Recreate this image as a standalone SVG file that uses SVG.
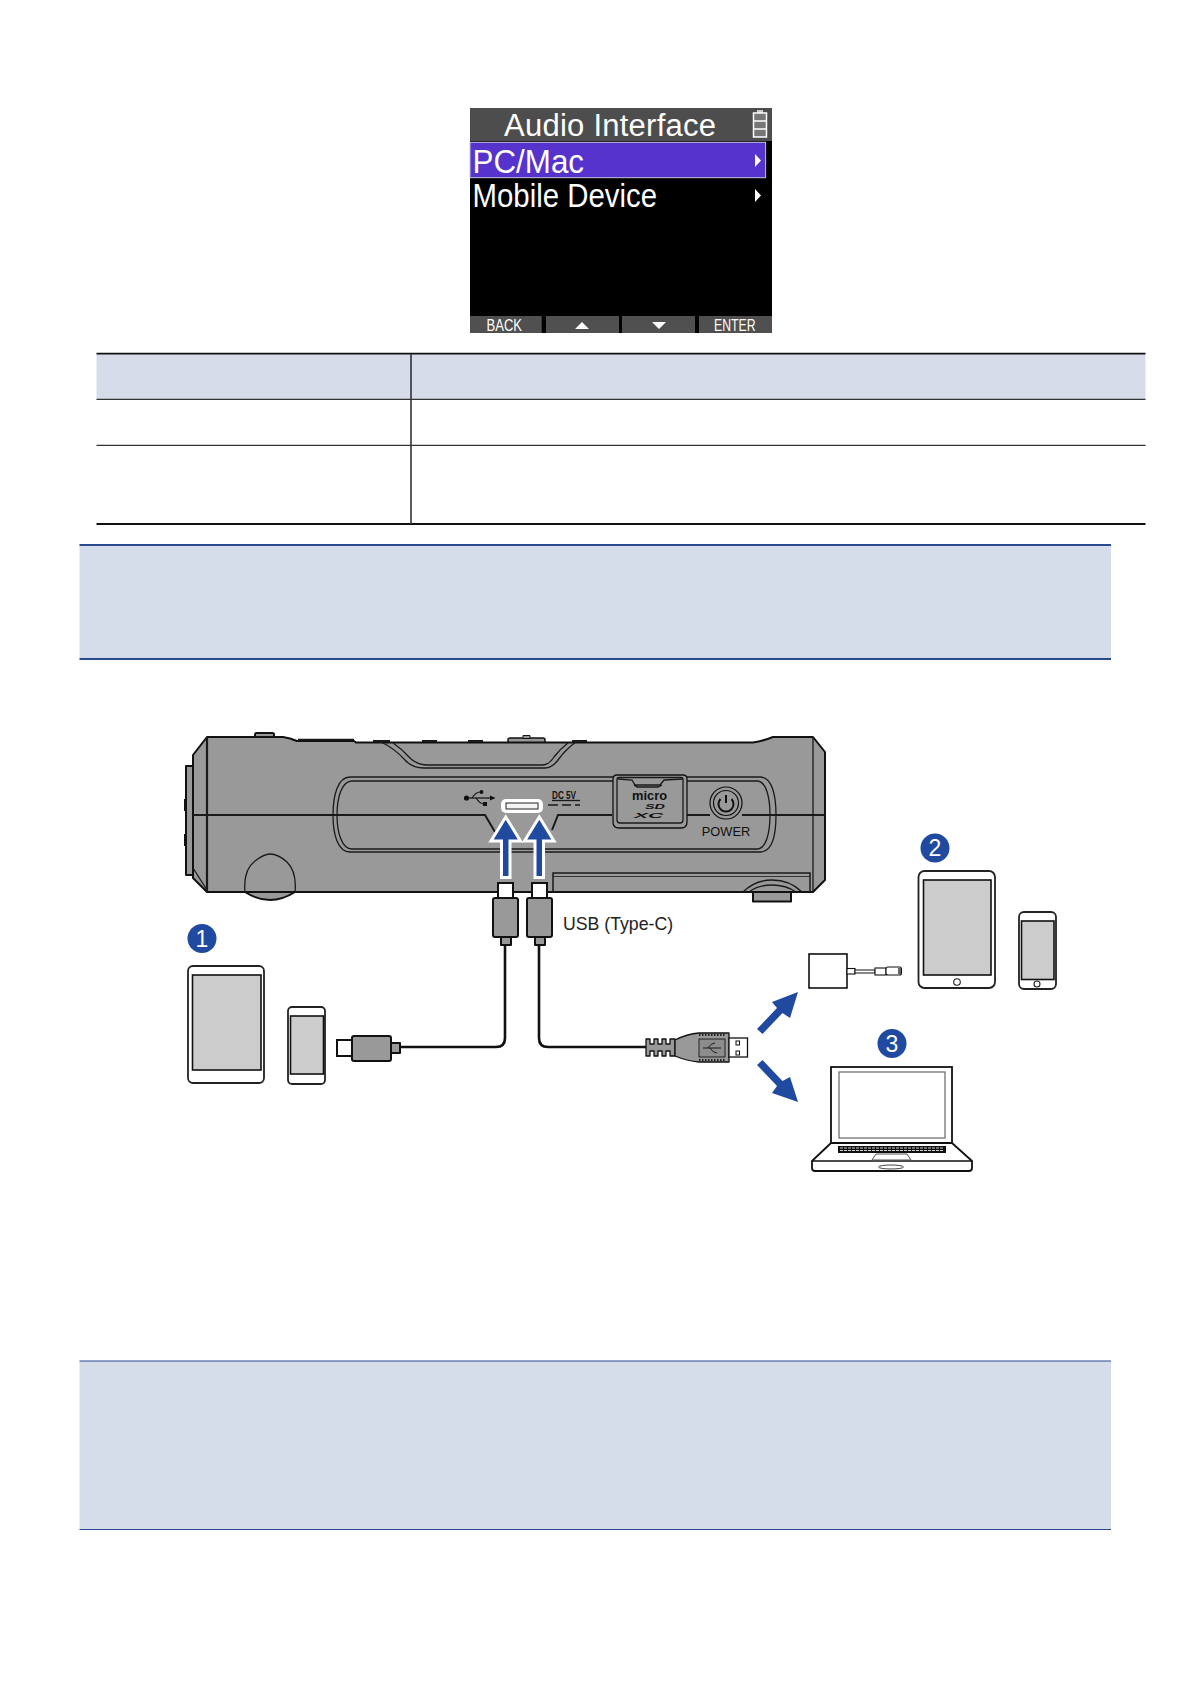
<svg xmlns="http://www.w3.org/2000/svg" width="1191" height="1684" viewBox="0 0 1191 1684">
<defs>
<style>
.sans{font-family:"Liberation Sans",Arial,sans-serif}
.lcd{font-family:"Liberation Sans",Arial,sans-serif;fill:#fff}
.ln{fill:none;stroke:#1a1a1a;stroke-width:1.3}
.ln2{fill:none;stroke:#1a1a1a;stroke-width:2}
.body{fill:#999;stroke:#111;stroke-width:2;stroke-linejoin:round}
.white{fill:#fff;stroke:#111;stroke-width:2}
.scr{fill:#ccc;stroke:#111;stroke-width:1.6}
.dev{fill:#fff;stroke:#222;stroke-width:1.8}
.blue{fill:#1f4a9f}
.cable{fill:none;stroke:#111;stroke-width:2.6}
.badge{fill:#1f4a9f}
.badgetxt{font-family:"Liberation Sans",Arial,sans-serif;font-size:23px;fill:#fff;text-anchor:middle}
.bar{fill:#505050}
.hr{stroke:#333;stroke-width:1.2}
.blueline{stroke:#2a4a90;stroke-width:1.8}
</style>
</defs>

<g id="screen">
<rect x="470" y="108" width="302" height="225" fill="#000"/>
<rect x="470" y="108" width="302" height="33" fill="#4d4d4d"/>
<rect x="470" y="142.300" width="295.600" height="35.400" fill="#5533cc" stroke="#c9c4e6" stroke-width="1"/>
<text class="lcd" x="504" y="136" font-size="31" textLength="212" lengthAdjust="spacing">Audio Interface</text>
<text class="lcd" x="472.500" y="173" font-size="33" textLength="111.500" lengthAdjust="spacingAndGlyphs">PC/Mac</text>
<text class="lcd" x="472.500" y="207" font-size="33" textLength="184.500" lengthAdjust="spacingAndGlyphs">Mobile Device</text>
<path d="M755 154 L761 160.500 L755 167Z M755 189 L761 195.500 L755 202Z" fill="#fff"/>
<g id="battery">
<rect x="757" y="110" width="6" height="3" fill="#ccc"/>
<rect x="753.500" y="113" width="13" height="24" fill="#777" stroke="#fff" stroke-width="1.500"/>
<path d="M754 121 H766 M754 129 H766" stroke="#fff" stroke-width="1.300" fill="none"/>
</g>
<rect class="bar" x="470" y="316" width="71.700" height="17"/>
<rect class="bar" x="546" y="316" width="73" height="17"/>
<rect class="bar" x="622" y="316" width="73" height="17"/>
<rect class="bar" x="699" y="316" width="73" height="17"/>
<text class="lcd" x="486.500" y="331" font-size="16" textLength="35.500" lengthAdjust="spacingAndGlyphs">BACK</text>
<text class="lcd" x="714" y="331" font-size="16" textLength="41.500" lengthAdjust="spacingAndGlyphs">ENTER</text>
<path d="M582 322 L589 329 L575 329Z M652 322 L666 322 L659 329Z" fill="#fff"/>
</g>

<g id="table">
<rect x="96.500" y="354" width="1049" height="45.500" fill="#d6dcea"/>
<line class="hr" x1="96.500" y1="353.700" x2="1145.500" y2="353.700" style="stroke:#111;stroke-width:1.700"/>
<line class="hr" x1="96.500" y1="399.400" x2="1145.500" y2="399.400"/>
<line class="hr" x1="96.500" y1="445.400" x2="1145.500" y2="445.400"/>
<line class="hr" x1="96.500" y1="524" x2="1145.500" y2="524" style="stroke:#111;stroke-width:1.800"/>
<line class="hr" x1="411" y1="354" x2="411" y2="524" style="stroke-width:1.600"/>
</g>

<g id="note-top">
<rect x="79.500" y="545" width="1031.500" height="114" fill="#d5dcea"/>
<line class="blueline" x1="79.500" y1="545" x2="1111" y2="545"/>
<line class="blueline" x1="79.500" y1="659" x2="1111" y2="659"/>
</g>

<g id="note-bottom">
<rect x="79.500" y="1361" width="1031.500" height="168.500" fill="#d5dcea"/>
<line class="blueline" x1="79.500" y1="1361" x2="1111" y2="1361" style="stroke-width:1.200"/>
<line class="blueline" x1="79.500" y1="1529.500" x2="1111" y2="1529.500" style="stroke-width:1.200"/>
</g>

<g id="recorder">
<rect class="body" x="186" y="766" width="8" height="109"/>
<rect x="184" y="799" width="2.500" height="12" fill="#111"/>
<rect x="184" y="834" width="2.500" height="12" fill="#111"/>
<rect class="body" x="255" y="733" width="19" height="6" rx="1.500"/>
<rect class="body" x="508" y="738" width="37" height="6" rx="2" style="stroke-width:1.500"/>
<rect class="body" x="523" y="735.500" width="7" height="3" style="stroke-width:1"/>
<path class="body" d="M245 892 Q270 908 295 892Z"/>
<path class="body" d="M753 892 L753 901.500 L791 901.500 L791 892Z"/>
<path class="body" d="M193 755 L207 737 L283 737 Q290 738 297 741 L354 741 L356 742.500 L753 742.500 Q763 741 773 737 L813 737 L825 752 L825 880 L813 892 L207 892 L193 878Z"/>
<path class="ln2" d="M207 737 L207 892" style="stroke-width:2.200"/>
<path class="ln" d="M813 737 L813 892"/>
<path class="ln" d="M193 868 L207 890"/>
<path class="ln" d="M298 739.500 L354 739.500"/>
<path class="ln" d="M373 741 L390 741 M422 741 L437 741 M468 741 L483 741 M572 741 L587 741" style="stroke-width:2.200"/>
<path class="ln" d="M381 742 Q394 748 405 760 Q412 768 424 768 L545 768 Q552 768 558 760 Q566 749 576 742"/>
<path class="ln" d="M393 743 Q402 749 409 757 Q416 765 428 765 L542 765 Q549 765 554 757 Q560 749 568 743"/>
<path class="ln" d="M613 777 L350 777 C338 777 333 795 333 815 C333 835 338 852 350 852 L760 852 C772 852 776 835 776 815 C776 795 772 777 760 777 L687 777"/>
<path class="ln" d="M613 781 L352 781 C342 781 337 797 337 815 C337 833 342 849 352 849 L757 849 C766 849 770 833 770 815 C770 797 766 781 757 781 L687 781"/>
<path class="ln2" d="M193 815 L485 815 L495 832"/>
<path class="ln2" d="M552 830 L558 815 L612 815"/>
<path class="ln2" d="M687 815 L710 815 M742 815 L825 815"/>
<path class="body" d="M613 779 Q613 775 617 775 L683 775 Q687 775 687 779 L687 822 Q687 828 681 828 L619 828 Q613 828 613 822Z" style="stroke-width:1.300"/>
<path class="ln" d="M617 779 Q617 777.500 619 777.500 L681 777.500 Q683 777.500 683 779 L683 820 Q683 823 680 823 L620 823 Q617 823 617 820Z"/>
<path class="ln" d="M618 779 L632 780 L635 785 L660 785 L664 780 L683 779 M634 785 L637 787 L658 787 L662 785"/>
<text class="sans" x="632" y="800" font-size="12.500" font-weight="700" textLength="35" lengthAdjust="spacingAndGlyphs" fill="#111">micro</text>
<text class="sans" x="645" y="809" font-size="7.500" font-weight="700" font-style="italic" textLength="20" lengthAdjust="spacingAndGlyphs" fill="#111">SD</text>
<text class="sans" x="634" y="818" font-size="8" font-weight="700" font-style="italic" textLength="29" lengthAdjust="spacingAndGlyphs" fill="#111">XC</text>
<circle cx="726" cy="803" r="16" class="body" style="stroke-width:1.200"/>
<circle cx="726" cy="803" r="12.500" fill="none" stroke="#111" stroke-width="1.200"/>
<path d="M720.500 799 A7.500 7.500 0 1 0 731.500 799 M726 795 L726 803" fill="none" stroke="#111" stroke-width="2"/>
<text class="sans" x="726" y="836" font-size="12.800" text-anchor="middle" fill="#111">POWER</text>
<g id="usb-logo" fill="#111">
<circle cx="466.500" cy="798" r="2.600"/>
<path d="M466 798 L494 798" stroke="#111" stroke-width="1.200" fill="none"/>
<path d="M495.500 798 L490 795.500 L490 800.500Z"/>
<path d="M472 798 Q476 792 480 792 M476 798 Q480 804 484 804" stroke="#111" stroke-width="1.100" fill="none"/>
<circle cx="481.500" cy="792" r="1.900"/>
<rect x="483" y="802" width="4" height="4"/>
</g>
<text class="sans" x="552" y="799" font-size="10" font-weight="700" textLength="24" lengthAdjust="spacingAndGlyphs" fill="#111">DC 5V</text>
<path class="ln" d="M552 800.500 L580 800.500"/>
<path class="ln" d="M548 805 L558 805 M562 805 L571 805 M575 805 L580 805"/>
<rect x="501" y="799" width="42" height="14" rx="5" fill="#fff"/>
<rect x="506" y="803" width="32" height="6" fill="#f4f4f4" stroke="#222" stroke-width="1"/>
<path class="ln" d="M553 892 L553 873 L810 873 L810 892" style="stroke-width:1.500"/>
<path class="ln" d="M553 876.500 L810 876.500" style="stroke-width:.8"/>
<path class="ln" d="M245 892 Q243 870 255 861 Q264 854 270 854 Q278 854 287 862 Q297 872 295 892"/>
<path class="ln" d="M743 892 Q755 880 772 880 Q790 880 802 892"/>
<path class="ln" d="M749 892 Q758 885 772 885 Q786 885 796 892"/>
</g>

<g id="arrows">
<path class="blue" stroke="#fff" stroke-width="3" stroke-linejoin="miter" d="M505.700 817 L520.500 841 L510 841 L510 877.500 L501.500 877.500 L501.500 841 L491 841Z"/>
<path class="blue" stroke="#fff" stroke-width="3" stroke-linejoin="miter" d="M539.300 817 L554 841 L543.500 841 L543.500 877.500 L535 877.500 L535 841 L524.500 841Z"/>
<path class="blue" d="M798 992 L790 1018 L782.500 1013 L762.500 1034 L757 1029 L777 1008 L772 1002Z"/>
<path class="blue" d="M798 1102 L772 1093 L777 1086 L757 1065 L762.500 1060 L782.500 1081 L790 1077Z"/>
</g>

<g id="connectors">
<path class="cable" d="M505 945 L505 1038 Q505 1047 496 1047 L400 1047"/>
<path class="cable" d="M539 945 L539 1038 Q539 1047 548 1047 L646 1047"/>
</g>

<g id="usbc-plugs">
<rect class="white" x="498" y="883" width="15" height="15"/>
<rect class="white" x="532" y="883" width="15" height="15"/>
<rect class="body" x="493" y="898" width="25" height="39" rx="2"/>
<rect class="body" x="527" y="898" width="25" height="39" rx="2"/>
<rect class="body" x="501" y="937" width="10" height="8"/>
<rect class="body" x="535" y="937" width="10" height="8"/>
</g>

<g id="device-left-plug">
<rect class="white" x="337" y="1040" width="16" height="16"/>
<rect class="body" x="352" y="1036" width="39" height="25" rx="2"/>
<rect class="body" x="391" y="1043" width="9" height="10"/>
</g>

<g id="usb-a-plug">
<path class="body" d="M646 1039 L650 1039 L650 1044 L654 1044 L654 1039 L658 1039 L658 1044 L662 1044 L662 1039 L666 1039 L666 1044 L670 1044 L670 1039 L675 1039 L675 1056 L670 1056 L670 1051 L666 1051 L666 1056 L662 1056 L662 1051 L658 1051 L658 1056 L654 1056 L654 1051 L650 1051 L650 1056 L646 1056Z" style="stroke-width:1.300"/>
<path class="body" d="M675 1040 Q687 1034 699 1033 L729 1033 L729 1062 L699 1062 Q687 1061 675 1056Z" style="stroke-width:1.300"/>
<rect x="699" y="1039" width="26" height="18" fill="#8c8c8c" stroke="#222" stroke-width="1"/>
<path d="M699 1035 L725 1035 M699 1060 L725 1060" stroke="#222" stroke-width="2" stroke-dasharray="1.500 1.500" fill="none"/>
<path d="M703 1048 L721 1048 M708 1048 Q711 1043 715 1043 M710 1048 Q713 1053 717 1053" stroke="#111" stroke-width=".9" fill="none"/>
<rect class="white" x="729" y="1038" width="18.500" height="19" style="stroke-width:1.300"/>
<rect x="736" y="1041" width="3.500" height="4" fill="#fff" stroke="#111" stroke-width="1"/>
<rect x="736" y="1051" width="3.500" height="4" fill="#fff" stroke="#111" stroke-width="1"/>
</g>

<g id="device-1">
<circle class="badge" cx="202" cy="938.500" r="14.500"/>
<text class="badgetxt" x="202" y="946.500">1</text>
<rect class="dev" x="188" y="966" width="76" height="117" rx="5"/>
<rect class="scr" x="192.500" y="975" width="68.500" height="95"/>
<rect class="dev" x="288" y="1007" width="37" height="77" rx="4"/>
<rect class="scr" x="290.500" y="1016" width="33" height="58"/>
</g>

<g id="device-2">
<circle class="badge" cx="935" cy="848" r="14.500"/>
<text class="badgetxt" x="935" y="856">2</text>
<rect class="dev" x="918.500" y="871" width="76.500" height="117" rx="6"/>
<rect class="scr" x="923.500" y="880" width="67.500" height="95"/>
<circle cx="957" cy="982" r="3.300" fill="#fff" stroke="#222" stroke-width="1.100"/>
<rect class="dev" x="1019" y="912" width="37" height="77" rx="5"/>
<rect class="scr" x="1021.500" y="921" width="32.500" height="58.500"/>
<circle cx="1037" cy="984" r="3" fill="#fff" stroke="#222" stroke-width="1.100"/>
</g>

<g id="adapter">
<rect class="white" x="809" y="954" width="38" height="34" style="stroke-width:1.600"/>
<rect x="847" y="968.500" width="8" height="5.500" fill="#fff" stroke="#111" stroke-width="1.100"/>
<rect x="855" y="970" width="20" height="3" fill="#fff" stroke="#111" stroke-width="1"/>
<rect x="875" y="968" width="11" height="7" fill="#fff" stroke="#111" stroke-width="1.100"/>
<rect x="886" y="967" width="15.500" height="8" rx="2" fill="#fff" stroke="#111" stroke-width="1.100"/>
<rect x="898" y="968" width="3" height="6" fill="#666"/>
</g>

<g id="device-3">
<circle class="badge" cx="892" cy="1043.500" r="14.500"/>
<text class="badgetxt" x="892" y="1051.500">3</text>
<rect x="831" y="1067" width="121" height="76" fill="#fff" stroke="#111" stroke-width="1.800"/>
<rect x="839" y="1072" width="106" height="66" fill="#fff" stroke="#666" stroke-width="1.200"/>
<path d="M831 1143 L812 1161 L812 1168 Q812 1171 815 1171 L969 1171 Q972 1171 972 1168 L972 1161 L952 1143Z" fill="#fff" stroke="#111" stroke-width="1.800" stroke-linejoin="round"/>
<path d="M812 1161 L972 1161" stroke="#111" stroke-width="1.500" fill="none"/>
<rect x="838" y="1146" width="108" height="7" fill="#111"/>
<path d="M840 1148 H944 M840 1150.500 H944" stroke="#fff" stroke-width=".8" fill="none" stroke-dasharray="3 1"/>
<path d="M876 1154 L907 1154 L911 1160 L872 1160Z" fill="#fff" stroke="#555" stroke-width="1"/>
<ellipse cx="891" cy="1167" rx="12.500" ry="2" fill="#fff" stroke="#444" stroke-width="1"/>
</g>

<g id="label-usb">
<text class="sans" x="563" y="930" font-size="17.700" fill="#222">USB (Type-C)</text>
</g>
</svg>
